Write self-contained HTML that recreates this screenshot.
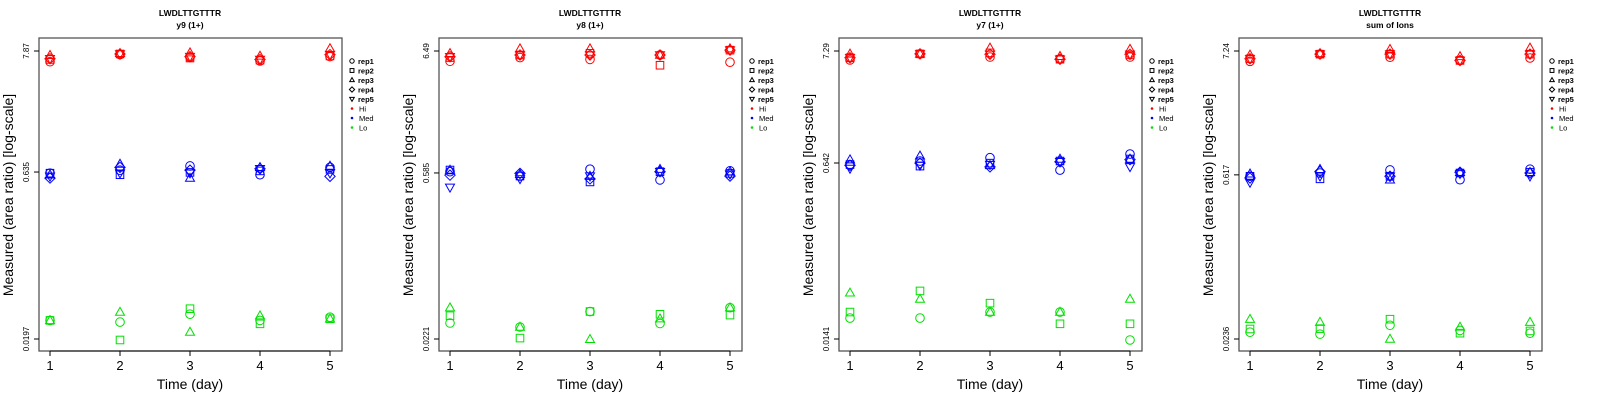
<!DOCTYPE html>
<html><head><meta charset="utf-8">
<style>
html,body{margin:0;padding:0;background:#fff;}
svg{display:block;font-family:"Liberation Sans",sans-serif;}
</style></head>
<body>
<svg id="chart" width="1600" height="400" viewBox="0 0 1600 400" xmlns="http://www.w3.org/2000/svg"></svg>
<script>
const days = [1, 2, 3, 4, 5];
const panelTitles = ["y9 (1+)", "y8 (1+)", "y7 (1+)", "sum of Ions"];
const peptide = "LWDLTTGTTTR";
const tickMax = [7.87, 6.49, 7.29, 7.24];
const tickMid = [0.635, 0.585, 0.642, 0.617];
const tickMin = [0.0197, 0.0221, 0.0141, 0.0236];
const tickLabelMax = ["7.87", "6.49", "7.29", "7.24"];
const tickLabelMid = ["0.635", "0.585", "0.642", "0.617"];
const tickLabelMin = ["0.0197", "0.0221", "0.0141", "0.0236"];
const levels = ["Hi", "Med", "Lo"];
const reps = ["rep1", "rep2", "rep3", "rep4", "rep5"];
// values[panel][level][rep] = per-day values
const p1Hi = [[6.3,7.3,6.9,6.4,7.0],[6.6,7.4,6.8,6.5,7.1],[7.2,7.5,7.6,7.1,8.3],[6.7,7.4,7.0,6.6,7.3],[6.7,7.4,7.0,6.6,7.3]];
const p1Med = [[0.62,0.66,0.72,0.60,0.70],[0.62,0.60,0.63,0.65,0.67],[0.60,0.75,0.56,0.70,0.72],[0.56,0.70,0.66,0.68,0.58],[0.58,0.62,0.62,0.68,0.62]];
const p1Lo = [[0.029,0.028,0.033,0.029,0.031],[0.029,0.0193,0.037,0.027,0.030],[0.029,0.0345,0.0228,0.032,0.030],[null,null,null,null,null],[null,null,null,null,null]];
const p2Hi = [[5.3,5.7,5.5,6.0,5.2],[5.7,6.0,6.2,4.9,6.6],[6.2,6.8,6.8,6.0,6.8],[5.8,6.0,6.0,6.0,6.6],[5.8,6.0,6.0,6.0,6.6]];
const p2Med = [[0.60,0.55,0.63,0.51,0.61],[0.62,0.55,0.49,0.60,0.58],[0.62,0.57,0.55,0.63,0.60],[0.56,0.58,0.52,0.60,0.55],[0.44,0.52,0.55,0.60,0.57]];
const p2Lo = [[0.0303,0.028,0.038,0.030,0.041],[0.035,0.0225,0.038,0.036,0.0354],[0.041,0.028,0.022,0.033,0.041],[null,null,null,null,null],[null,null,null,null,null]];
const p3Hi = [[6.0,6.85,6.4,6.1,6.4],[6.3,6.85,7.0,6.1,6.7],[6.85,6.85,7.8,6.5,7.6],[6.3,6.85,6.8,6.1,6.8],[6.3,6.85,6.8,6.1,6.8]];
const p3Med = [[0.62,0.67,0.72,0.55,0.78],[0.62,0.60,0.64,0.67,0.70],[0.69,0.75,0.61,0.70,0.70],[0.61,0.64,0.59,0.66,0.69],[0.57,0.61,0.62,0.66,0.59]];
const p3Lo = [[0.0222,0.0222,0.0253,0.0253,0.0138],[0.0253,0.040,0.0307,0.0196,0.0196],[0.0384,0.0336,0.0253,0.0253,0.0336],[null,null,null,null,null],[null,null,null,null,null]];
const p4Hi = [[5.9,6.8,6.4,6.0,6.3],[6.2,6.8,6.8,6.0,6.8],[6.7,6.9,7.5,6.5,7.7],[6.2,6.8,6.8,6.0,6.8],[6.2,6.8,6.8,6.0,6.8]];
const p4Med = [[0.60,0.64,0.68,0.56,0.69],[0.60,0.57,0.60,0.64,0.65],[0.63,0.69,0.56,0.65,0.65],[0.58,0.66,0.60,0.65,0.64],[0.53,0.60,0.60,0.63,0.60]];
const p4Lo = [[0.027,0.026,0.031,0.028,0.0265],[0.0288,0.029,0.035,0.0265,0.0277],[0.035,0.033,0.0236,0.030,0.033],[null,null,null,null,null],[null,null,null,null,null]];
const values = [[p1Hi,p1Med,p1Lo],[p2Hi,p2Med,p2Lo],[p3Hi,p3Med,p3Lo],[p4Hi,p4Med,p4Lo]];
const levelColors = ["#ff0000", "#0000ff", "#00e000"];

const NS = "http://www.w3.org/2000/svg";
const svg = document.getElementById("chart");
function mk(tag, attrs, parent, txt) {
  const e = document.createElementNS(NS, tag);
  for (const k in attrs) e.setAttribute(k, attrs[k]);
  if (txt !== undefined) e.textContent = txt;
  parent.appendChild(e);
  return e;
}
const L = 39, R = 342, T = 38, B = 351;
const yTop = 51, yBot = 339;
function xScale(d) { return 50 + (d - 1) * 70; }
function makeY(p) {
  const a = Math.log(tickMax[p]), b = Math.log(tickMin[p]);
  return v => yBot - (Math.log(v) - b) / (a - b) * (yBot - yTop);
}
function marker(g, rep, x, y, col, r) {
  let e;
  if (rep === 0) e = mk("circle", {cx: x, cy: y, r: r}, g);
  else if (rep === 1) e = mk("rect", {x: x - r * 0.88, y: y - r * 0.88, width: r * 1.76, height: r * 1.76}, g);
  else if (rep === 2) e = mk("polygon", {points: `${x},${y - r * 1.1} ${x - r * 1.05},${y + r * 0.75} ${x + r * 1.05},${y + r * 0.75}`}, g);
  else if (rep === 3) e = mk("polygon", {points: `${x},${y - r * 1.2} ${x + r * 1.2},${y} ${x},${y + r * 1.2} ${x - r * 1.2},${y}`}, g);
  else e = mk("polygon", {points: `${x},${y + r * 1.1} ${x - r * 1.05},${y - r * 0.75} ${x + r * 1.05},${y - r * 0.75}`}, g);
  e.setAttribute("fill", "none");
  e.setAttribute("stroke", col);
  e.setAttribute("stroke-width", "1");
  return e;
}
for (let p = 0; p < 4; p++) {
  const g = mk("g", {transform: `translate(${p * 400},0)`}, svg);
  
  
  const yS = makeY(p);
  const t1 = mk("text", {x: 190, y: 16, "text-anchor": "middle", "font-size": "8.5", "font-weight": "bold"}, g, peptide);
  
  
  const t2 = mk("text", {x: 190, y: 28, "text-anchor": "middle", "font-size": "8.5", "font-weight": "bold"}, g, panelTitles[p]);
  
  
  const box = mk("rect", {x: L, y: T, width: R - L, height: B - T, fill: "none", stroke: "#555", "stroke-width": "1.3"}, g);
  
  
  days.forEach(d => {
    const x = xScale(d);
    mk("line", {x1: x, x2: x, y1: B, y2: B + 5, stroke: "#000"}, g);
    const tl = mk("text", {x: x, y: 370, "text-anchor": "middle", "font-size": "13"}, g, String(d));
    
    
  });
  mk("line", {x1: xScale(1), x2: xScale(5), y1: B, y2: B, stroke: "#000"}, g);
  const xt = mk("text", {x: 190, y: 389, "text-anchor": "middle", "font-size": "14"}, g, "Time (day)");
  
  
  const yt = [[tickMax[p], tickLabelMax[p]], [tickMid[p], tickLabelMid[p]], [tickMin[p], tickLabelMin[p]]];
  yt.forEach(([v, lab]) => {
    const y = yS(v);
    mk("line", {x1: L - 5, x2: L, y1: y, y2: y, stroke: "#000"}, g);
    const tl = mk("text", {x: 0, y: 0, transform: `translate(29,${y}) rotate(-90)`, "text-anchor": "middle", "font-size": "8"}, g, lab);
    
    
  });
  const ya = mk("text", {x: 0, y: 0, transform: `translate(13,195) rotate(-90)`, "text-anchor": "middle", "font-size": "14"}, g, "Measured (area ratio) [log-scale]");
  
  
  for (let l = 0; l < 3; l++) {
    for (let r = 0; r < 5; r++) {
      values[p][l][r].forEach((v, i) => {
        if (v === null) return;
        const m = marker(g, r, xScale(days[i]), yS(v), levelColors[l], 4.3);
        
        
      });
    }
  }
  const lg = mk("g", {}, g);
  
  
  reps.forEach((rp, i) => {
    const y = 61 + i * 9.5;
    marker(lg, i, 352, y, "#000", 2.2);
    const tx = mk("text", {x: 358, y: y + 3, "font-size": "7.5", "font-weight": "bold"}, lg, rp);
    
    
  });
  levels.forEach((lv, i) => {
    const y = 61 + (i + 5) * 9.5;
    mk("circle", {cx: 352, cy: y, r: 1.3, fill: levelColors[i]}, lg);
    const tx = mk("text", {x: 359, y: y + 3, "font-size": "7.5"}, lg, lv);
    
    
  });
}
</script>
</body></html>
